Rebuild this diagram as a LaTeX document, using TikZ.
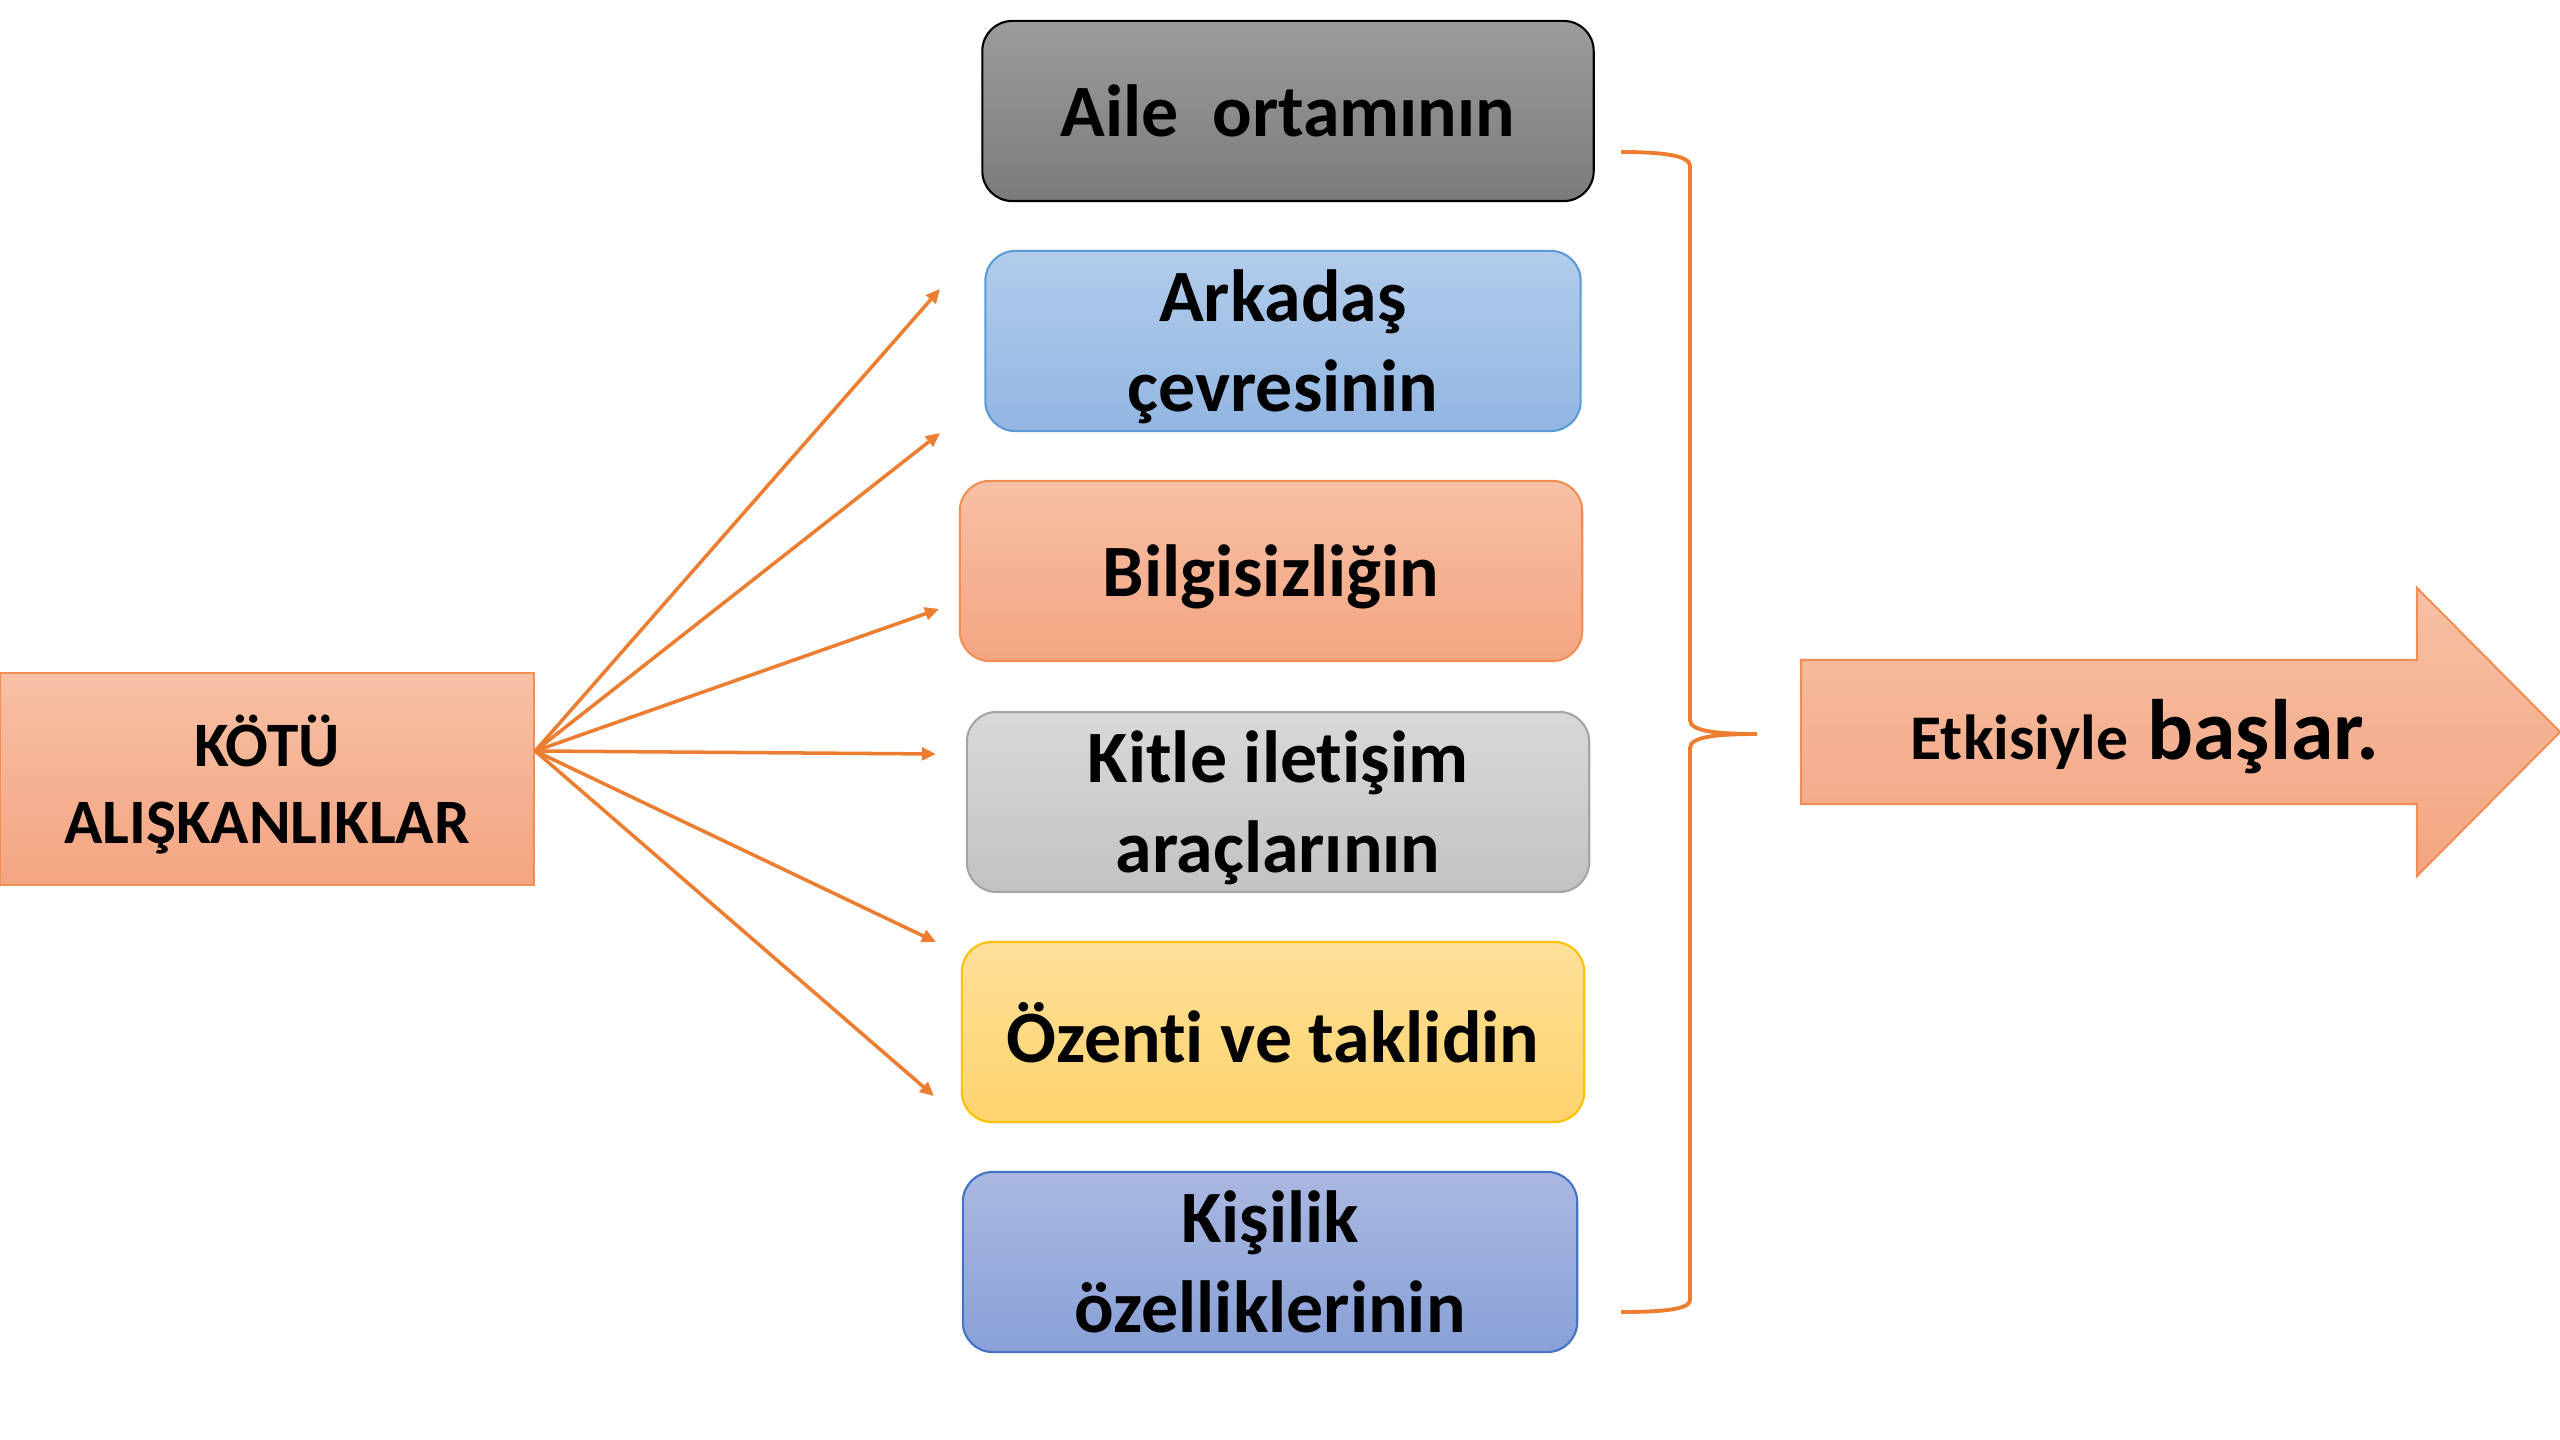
\documentclass[tikz,border=0pt]{standalone}
\usepackage{fontspec}
\setmainfont{Carlito}[Ligatures={NoCommon}]
\usetikzlibrary{arrows.meta}

\definecolor{turuncu}{HTML}{ED7D31}
\definecolor{turuncuKenar}{HTML}{F08F55}
\definecolor{turuncuA}{HTML}{F7C0A5}
\definecolor{turuncuB}{HTML}{F4A582}
\definecolor{griA}{HTML}{9C9C9C}
\definecolor{griB}{HTML}{7B7B7B}
\definecolor{maviA}{HTML}{B2CCEB}
\definecolor{maviB}{HTML}{92B6E2}
\definecolor{maviKenar}{HTML}{5B9BD5}
\definecolor{acikGriA}{HTML}{D9D9D9}
\definecolor{acikGriB}{HTML}{C2C2C2}
\definecolor{acikGriKenar}{HTML}{A5A5A5}
\definecolor{sariA}{HTML}{FEE09A}
\definecolor{sariB}{HTML}{FDD36C}
\definecolor{sariKenar}{HTML}{FFC000}
\definecolor{morA}{HTML}{AAB8E1}
\definecolor{morB}{HTML}{89A1D7}
\definecolor{morKenar}{HTML}{4472C4}

\begin{document}
\begin{tikzpicture}[x=0.01cm, y=-0.01cm,
  kutu/.style={rounded corners=8.5pt, line width=0.6pt, minimum height=1.8cm, inner sep=0pt, text depth=0pt, align=center, font=\fontsize{21}{25.6}\selectfont\bfseries},
  ok/.style={turuncu, line width=1pt, -{Triangle[length=4pt,width=3.6pt]}}]
\useasboundingbox (0,0) rectangle (2560,1440);

% sol kutu
\node[draw=turuncuKenar, line width=0.6pt, top color=turuncuA, bottom color=turuncuB, minimum width=5.34cm, minimum height=2.11cm, inner sep=0pt, text depth=0pt, align=center, font=\fontsize{18}{21.9}\selectfont\bfseries] (kotu) at (267,779) {KÖTÜ\\ALIŞKANLIKLAR};

% orta kutular
\node[kutu, minimum width=6.11cm, top color=griA, bottom color=griB, draw=black] (aile) at (1288,111) {Aile\ \ ortamının};
\node[kutu, minimum width=5.95cm, top color=maviA, bottom color=maviB, draw=maviKenar] (arkadas) at (1283,341) {Arkadaş\\çevresinin};
\node[kutu, minimum width=6.22cm, top color=turuncuA, bottom color=turuncuB, draw=turuncuKenar] (bilgi) at (1271,571) {Bilgisizliğin};
\node[kutu, minimum width=6.22cm, top color=acikGriA, bottom color=acikGriB, draw=acikGriKenar] (kitle) at (1278,802) {Kitle iletişim\\araçlarının};
\node[kutu, minimum width=6.22cm, top color=sariA, bottom color=sariB, draw=sariKenar] (ozenti) at (1273,1032) {Özenti ve taklidin};
\node[kutu, minimum width=6.14cm, top color=morA, bottom color=morB, draw=morKenar] (kisilik) at (1270,1262) {Kişilik\\özelliklerinin};

% oklar
\coordinate (kaynak) at ([yshift=0.28cm]kotu.east);
\coordinate (u1) at (940,289);
\coordinate (u2) at (940,433);
\coordinate (u3) at (939,609);
\coordinate (u4) at (936,754);
\coordinate (u5) at (936,942);
\coordinate (u6) at (934,1096);
\draw[ok] (kaynak) -- (u1);
\draw[ok] (kaynak) -- (u2);
\draw[ok] (kaynak) -- (u3);
\draw[ok] (kaynak) -- (u4);
\draw[ok] (kaynak) -- (u5);
\draw[ok] (kaynak) -- (u6);

% parantez
\draw[turuncu, line width=1.1pt] (1621,152) .. controls (1665,152) and (1690,156) .. (1690,166)
  -- (1690,720) .. controls (1690,731) and (1715,734) .. (1757,734)
  .. controls (1715,734) and (1690,737) .. (1690,748)
  -- (1690,1300) .. controls (1690,1309) and (1665,1312) .. (1621,1312);

% buyuk ok
\shade[top color=turuncuA, bottom color=turuncuB, draw=turuncuKenar, line width=0.6pt]
  (1801,660) -- (2417,660) -- (2417,588) -- (2560,732) -- (2417,876) -- (2417,804) -- (1801,804) -- cycle;
\node[anchor=base, inner sep=0pt, font=\bfseries] (etki) at (2145,760) {{\fontsize{18.1}{21}\selectfont Etkisiyle}{\fontsize{24.4}{28}\selectfont\ başlar.}};
\end{tikzpicture}
\end{document}
